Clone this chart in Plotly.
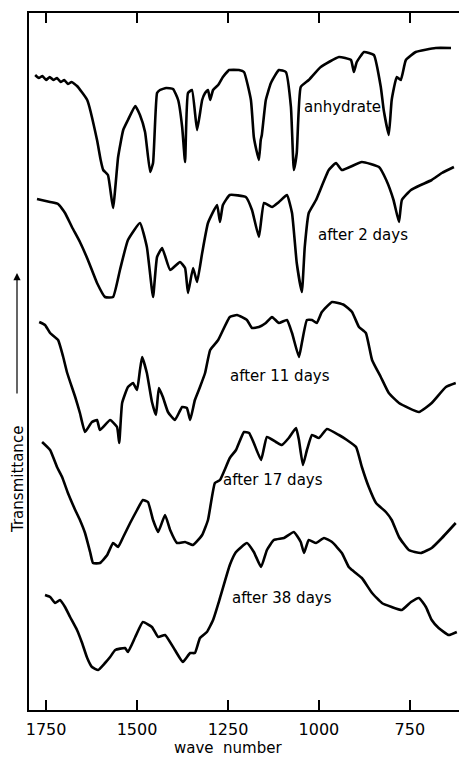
import plotly.graph_objects as go

# ---- data (wavenumber, transmittance in arbitrary stacked units) ----
wn_anhydrate = [1780,1770,1760,1750,1740,1730,1720,1710,1700,1690,1680,1665,1637,1610,1600,1593,1580,1566,1552,1538,1525,1505,1492,1478,1464,1456,1445,1437,1420,1401,1387,1376,1368,1360,1349,1335,1321,1313,1305,1299,1291,1277,1264,1250,1247,1220,1206,1187,1179,1172,1165,1160,1157,1146,1132,1110,1091,1077,1069,1061,1050,1028,995,945,912,904,896,876,849,830,822,808,800,786,775,761,734,679,637]
t_anhydrate = [635,632,634,630,633,630,632,628,630,626,628,624,610,570,550,540,535,502,553,580,590,604,595,578,538,547,617,620,622,621,610,583,548,617,620,580,610,617,620,610,620,625,633,639,640,640,638,610,573,560,550,570,575,610,627,640,638,603,540,557,623,630,643,653,650,638,648,658,655,623,600,575,610,633,630,650,658,662,662]

wn_2d = [1775,1739,1717,1698,1679,1657,1635,1610,1588,1566,1547,1525,1492,1473,1456,1445,1431,1409,1382,1368,1360,1346,1335,1321,1305,1280,1272,1264,1245,1201,1184,1165,1151,1129,1110,1088,1074,1061,1047,1039,1028,1008,973,953,937,882,835,815,795,780,772,747,720,690,662,629]
t_2d = [511,508,506,497,483,468,450,427,413,413,440,470,487,463,413,453,462,440,448,442,417,442,428,457,487,505,488,505,515,513,500,473,507,503,508,515,497,447,418,463,497,510,540,547,540,548,543,530,510,488,510,520,525,530,537,543]

wn_11d = [1769,1753,1739,1717,1703,1692,1670,1657,1643,1624,1610,1602,1574,1555,1549,1541,1525,1511,1500,1492,1486,1473,1459,1448,1440,1429,1415,1396,1376,1363,1354,1341,1327,1313,1299,1277,1245,1225,1198,1184,1165,1146,1129,1110,1088,1074,1055,1047,1033,1019,1006,992,964,931,909,890,871,854,830,808,780,725,690,651,624]
t_11d = [388,385,377,370,353,337,313,297,278,288,290,280,290,283,267,307,323,327,320,340,353,337,308,295,322,313,298,290,303,302,290,310,323,337,360,370,393,395,390,382,383,387,393,387,390,377,353,367,390,390,387,398,408,405,398,383,377,350,333,317,307,298,307,323,327]

wn_17d = [1761,1739,1720,1706,1690,1670,1657,1643,1629,1621,1602,1582,1566,1552,1538,1519,1500,1484,1470,1456,1442,1423,1409,1390,1368,1346,1321,1305,1286,1272,1245,1228,1206,1192,1179,1159,1143,1118,1102,1083,1063,1055,1044,1033,1019,1000,978,945,923,898,882,863,843,816,800,780,753,720,690,662,624]
t_17d = [268,260,243,233,217,200,190,177,158,147,147,155,167,163,173,187,200,210,208,190,178,195,180,167,168,165,175,190,227,230,252,260,278,277,267,250,273,268,265,272,282,270,245,260,275,272,281,275,270,263,243,223,207,198,190,173,160,157,162,172,187]

wn_38d = [1753,1739,1725,1712,1698,1684,1665,1651,1637,1624,1607,1588,1574,1560,1533,1525,1505,1484,1459,1442,1423,1396,1374,1354,1341,1327,1308,1291,1272,1245,1228,1198,1179,1159,1143,1124,1096,1069,1050,1041,1028,1008,986,964,937,918,909,882,854,827,800,772,747,725,706,690,671,643,621]
t_38d = [115,113,107,110,103,93,80,67,52,43,40,47,53,60,62,58,73,88,83,73,75,60,48,57,57,72,78,90,112,145,158,167,158,143,160,170,172,178,168,157,170,167,172,168,157,143,140,132,117,107,103,100,108,112,103,90,82,75,78]

labels = ["anhydrate", "after 2 days", "after 11 days", "after 17 days", "after 38 days"]
label_wn = [934, 879, 1107, 1126, 1102]
label_t = [603, 475, 334, 230, 112]

tick_vals = [1750, 1500, 1250, 1000, 750]

series = [(wn_anhydrate, t_anhydrate), (wn_2d, t_2d), (wn_11d, t_11d),
          (wn_17d, t_17d), (wn_38d, t_38d)]

FONT = "DejaVu Sans"
fig = go.Figure()
for (x, y), name in zip(series, labels):
    fig.add_trace(go.Scatter(x=x, y=y, mode="lines", name=name,
                             line=dict(color="black", width=2.6, shape="spline", smoothing=0.4),
                             showlegend=False, hoverinfo="skip"))

for txt, xv, yv in zip(labels, label_wn, label_t):
    fig.add_annotation(x=xv, y=yv, text=txt, showarrow=False, xref="x", yref="y",
                       xanchor="center", yanchor="middle",
                       font=dict(family=FONT, size=15, color="black"))

W, H = 459, 759
ml, mr, mt, mb = 29, 0, 13, 49
pw, ph = W - ml - mr, H - mt - mb

def px(xp):
    return (xp - ml) / pw

def py(yp):
    return (H - mb - yp) / ph

# y-axis label and arrow
fig.add_annotation(x=px(18), y=py(480), xref="paper", yref="paper", text="Transmittance",
                   textangle=-90, showarrow=False, xanchor="center", yanchor="middle",
                   font=dict(family=FONT, size=15, color="black"))
fig.add_annotation(x=px(17), y=py(273), xref="paper", yref="paper", text="",
                   showarrow=True, ax=0, ay=122, axref="pixel", ayref="pixel",
                   arrowhead=2, arrowsize=1.2, arrowwidth=1.2, arrowcolor="black")
# x-axis title
fig.add_annotation(x=px(228), y=py(748), xref="paper", yref="paper", text="wave  number",
                   showarrow=False, xanchor="center", yanchor="middle",
                   font=dict(family=FONT, size=15, color="black"))

fig.update_xaxes(range=[1797, 615], tickvals=tick_vals, ticktext=[str(v) for v in tick_vals],
                 ticks="inside", ticklen=10, tickwidth=1.5, tickcolor="black",
                 showline=True, linecolor="black", linewidth=2, mirror="ticks",
                 showgrid=False, zeroline=False,
                 tickfont=dict(family=FONT, size=16, color="black"), ticklabelstandoff=4)
fig.update_yaxes(range=[0, 697], showline=True, linecolor="black", linewidth=2,
                 showticklabels=False, ticks="", showgrid=False, zeroline=False)

fig.update_layout(width=W, height=H, margin=dict(l=ml, r=mr, t=mt, b=mb),
                  plot_bgcolor="white", paper_bgcolor="white")

fig.write_html("out.html")
